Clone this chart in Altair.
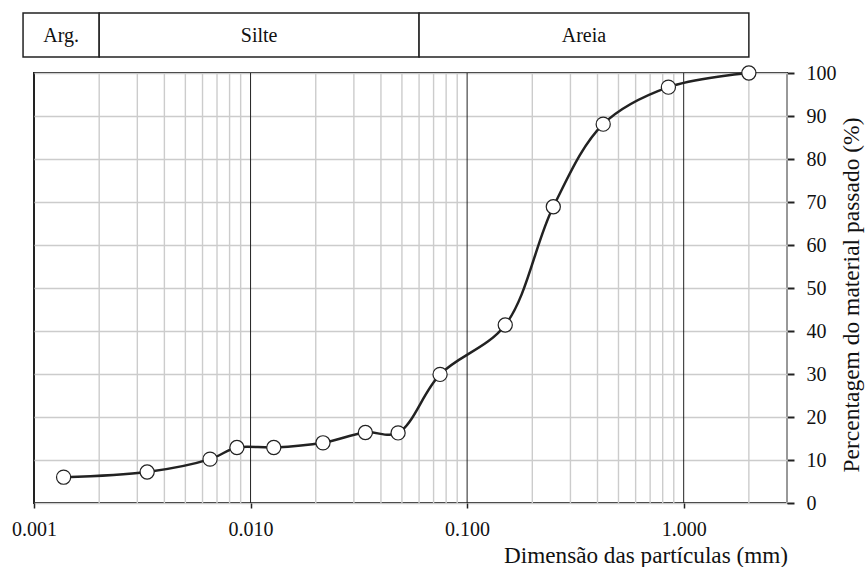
import altair as alt
import pandas as pd

# Grain size distribution (particle diameter in mm, % passing)
diametro = [0.00137, 0.00333, 0.0065, 0.00865, 0.0128, 0.0216, 0.0339, 0.048,
            0.075, 0.150, 0.250, 0.425, 0.850, 2.0]
passado = [6.0, 7.2, 10.2, 12.9, 12.9, 14.0, 16.4, 16.3,
           29.9, 41.4, 68.9, 88.1, 96.7, 100.0]

# Soil classification bands
classes = ["Arg.", "Silte", "Areia"]
limite_inf = [0.00089, 0.002, 0.06]
limite_sup = [0.002, 0.06, 2.0]

x_ticks = [0.001, 0.01, 0.1, 1.0]
y_ticks = list(range(0, 101, 10))
decadas = [0.01, 0.1, 1.0]
menores = [k * d for d in [0.001, 0.01, 0.1, 1.0] for k in range(2, 10) if k * d <= 3.0]

FONT = "Liberation Serif"
DARK = "#222222"
GRID = "#cccccc"

xs = alt.Scale(type="log", domain=[0.001, 3.0], nice=False)
ys = alt.Scale(domain=[0, 100], nice=False, zero=True)

df = pd.DataFrame({"d": diametro, "p": passado})
bands = pd.DataFrame({"c": classes, "a": limite_inf, "b": limite_sup})
bands["m"] = (bands["a"] * bands["b"]) ** 0.5

minor = alt.Chart(pd.DataFrame({"x": menores})).mark_rule(
    color=GRID, strokeWidth=1.4
).encode(x=alt.X("x:Q", scale=xs))

major = alt.Chart(pd.DataFrame({"x": decadas})).mark_rule(
    color=DARK, strokeWidth=1
).encode(x=alt.X("x:Q", scale=xs))

line = alt.Chart(df).mark_line(
    color=DARK, strokeWidth=2.5, interpolate="catmull-rom"
).encode(
    x=alt.X("d:Q", scale=xs,
            axis=alt.Axis(values=x_ticks, format=".3f", title=None, grid=False,
                          domain=False, ticks=True, tickSize=5, tickWidth=1.5,
                          tickColor=DARK, labelFontSize=20,
                          labelColor="#111", labelPadding=11, labelFlush=False)),
    y=alt.Y("p:Q", scale=ys,
            axis=alt.Axis(orient="right", values=y_ticks, title=None, grid=True,
                          gridColor=GRID, gridWidth=1.4, domain=False,
                          tickSize=7, tickWidth=2, tickColor=DARK,
                          labelFontSize=20, labelColor="#111",
                          labelPadding=12, labelAlign="left")),
)

points = alt.Chart(df).mark_point(
    filled=True, fill="white", stroke=DARK, strokeWidth=1.2, size=200, opacity=1
).encode(x=alt.X("d:Q", scale=xs), y=alt.Y("p:Q", scale=ys))

band_rect = alt.Chart(bands).mark_rect(
    fill="white", stroke=DARK, strokeWidth=1.5
).encode(
    x=alt.X("a:Q", scale=xs), x2="b:Q",
    y=alt.value(-60), y2=alt.value(-16),
)

band_text = alt.Chart(bands).mark_text(
    fontSize=20, color="#111", baseline="middle", align="center"
).encode(
    x=alt.X("m:Q", scale=xs), y=alt.value(-37), text="c:N",
)

xtitle = alt.Chart(pd.DataFrame({"t": ["Dimensão das partículas (mm)"]})).mark_text(
    fontSize=23.2, color="#111", align="right", baseline="alphabetic"
).encode(x=alt.value(754), y=alt.value(490), text="t:N")

ytitle = alt.Chart(pd.DataFrame({"t": ["Percentagem do material passado (%)"]})).mark_text(
    fontSize=23.5, color="#111", align="center", baseline="middle", angle=270
).encode(x=alt.value(818), y=alt.value(222), text="t:N")

chart = alt.layer(
    minor, major, line, points, band_rect, band_text, xtitle, ytitle
).properties(
    width=753, height=430,
    autosize=alt.AutoSizeParams(type="none"),
    padding={"left": 34, "top": 73, "right": 80, "bottom": 64},
    background="white",
).configure(
    font=FONT
).configure_text(
    font=FONT
).configure_axis(
    labelFont=FONT, titleFont=FONT
).configure_view(
    stroke=DARK, strokeWidth=2
)

chart.save("out.html", embed_options={"renderer": "svg", "actions": False})
